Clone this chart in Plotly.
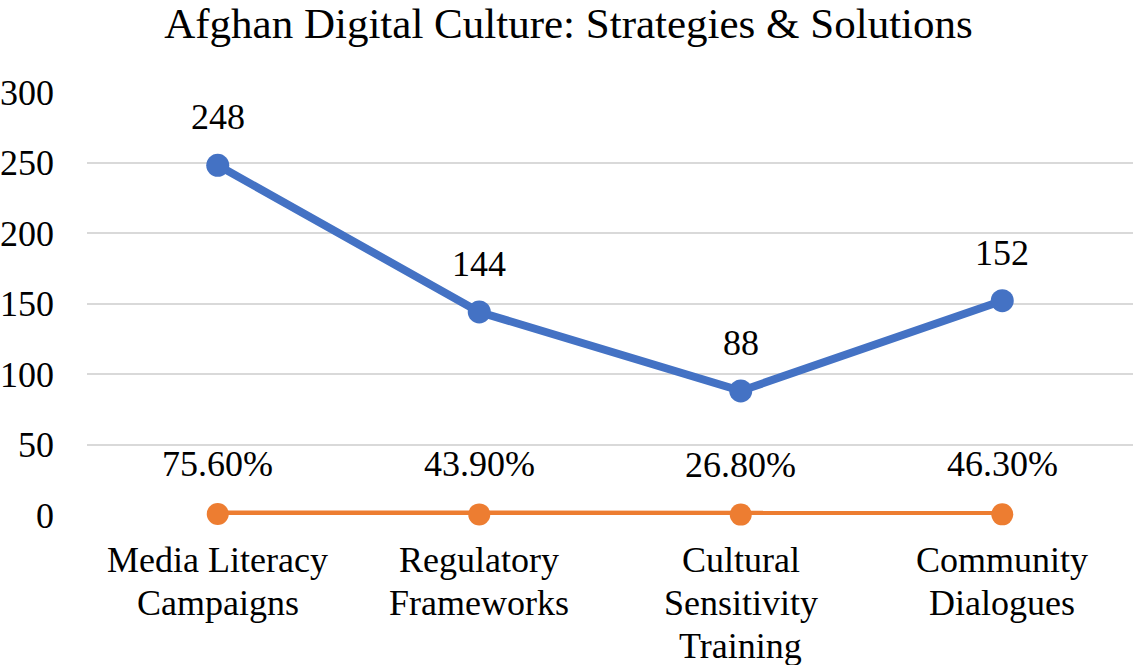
import plotly.graph_objects as go

categories = ["Media Literacy<br>Campaigns", "Regulatory<br>Frameworks",
              "Cultural<br>Sensitivity<br>Training", "Community<br>Dialogues"]
counts = [248, 144, 88, 152]
shares = [0.756, 0.439, 0.268, 0.463]
y_ticks = [0, 50, 100, 150, 200, 250, 300]

BLUE = "#4472C4"
ORANGE = "#ED7D31"
FONT = "Liberation Serif"

fig = go.Figure()
fig.add_trace(go.Scatter(x=categories, y=shares, mode="lines+markers",
                         line=dict(color=ORANGE, width=7),
                         marker=dict(color=ORANGE, size=22), cliponaxis=False,
                         name="Share"))
fig.add_trace(go.Scatter(x=categories, y=counts, mode="lines+markers",
                         line=dict(color=BLUE, width=8),
                         marker=dict(color=BLUE, size=23), cliponaxis=False,
                         name="Count"))

for c, v in zip(categories, counts):
    fig.add_annotation(x=c, y=v, text=str(v), showarrow=False, yshift=48,
                       font=dict(size=36, color="black", family=FONT))
for c, v in zip(categories, shares):
    fig.add_annotation(x=c, y=v, text=f"{v*100:.2f}%", showarrow=False, yshift=50,
                       font=dict(size=36, color="black", family=FONT))

# category labels, one text per line (tighter line spacing than plotly ticks)
for c in categories:
    for i, line in enumerate(c.split("<br>")):
        fig.add_annotation(x=c, y=0, yref="paper", text=line, showarrow=False,
                           yanchor="middle", yshift=-45 - 43 * i,
                           font=dict(size=36, color="black", family=FONT))

fig.update_layout(
    width=1137, height=665,
    paper_bgcolor="white", plot_bgcolor="white",
    showlegend=False,
    font=dict(family=FONT, size=36, color="black"),
    title=dict(text="Afghan Digital Culture: Strategies & Solutions",
               x=0.5, xanchor="center", y=0.966, yanchor="middle",
               font=dict(size=43, family=FONT, color="black")),
    margin=dict(l=87, r=4, t=92, b=150),
    xaxis=dict(range=[-0.5, 3.5], showgrid=False, showline=False, zeroline=False,
               ticks="", automargin=False, showticklabels=False),
    yaxis=dict(range=[0, 300], tickvals=y_ticks, showgrid=True,
               gridcolor="#d9d9d9", gridwidth=2, zeroline=False, showline=False,
               ticks="", ticklabelstandoff=32, automargin=False,
               tickfont=dict(size=36, family=FONT, color="black")),
)

fig.write_html("out.html", config={"displayModeBar": False},
               post_script="document.body.style.margin='0';document.body.style.overflow='hidden';")
